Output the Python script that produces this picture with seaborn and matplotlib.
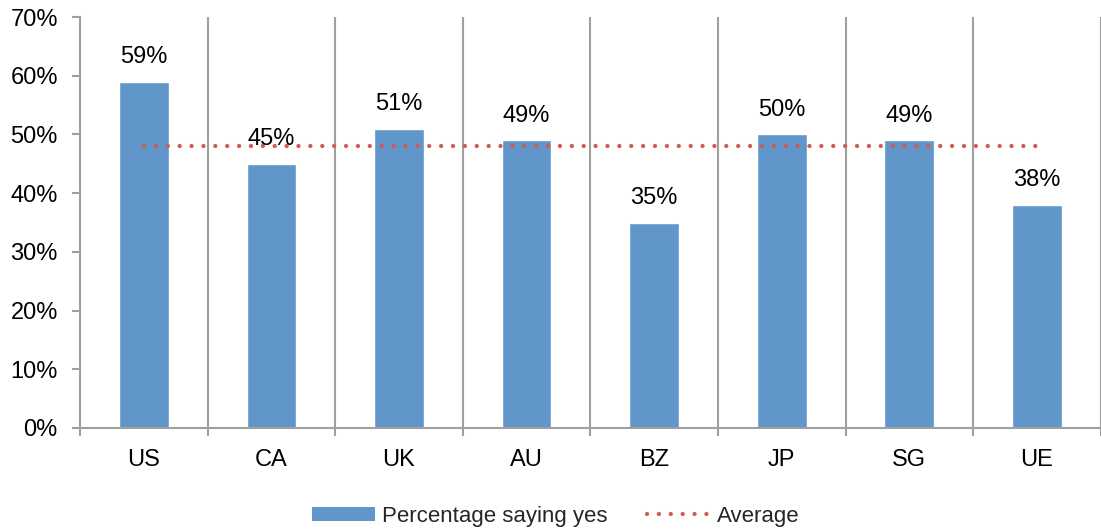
import matplotlib
matplotlib.use("Agg")
import matplotlib.pyplot as plt
from matplotlib.patches import Patch
from matplotlib.lines import Line2D
from matplotlib.ticker import FixedLocator
import seaborn as sns
import pandas as pd

# Survey results by country
countries = ["US", "CA", "UK", "AU", "BZ", "JP", "SG", "UE"]
pct_yes = [59, 45, 51, 49, 35, 50, 49, 38]
average = 48
y_ticks = [0, 10, 20, 30, 40, 50, 60, 70]

bar_color = "#6096C9"
avg_color = "#CD5C57"
axis_gray = "#A0A0A0"
dot_style = (0, (0.01, 2.75))
fs = 17

sns.set_theme(style="white")
plt.rcParams["font.family"] = ["Liberation Sans", "DejaVu Sans"]

df = pd.DataFrame({"country": countries, "pct": pct_yes,
                   "avg": [average] * len(countries)})

fig = plt.figure(figsize=(11.01, 5.32), dpi=100)
ax = fig.add_axes([0.0727, 0.1955, 0.927, 0.7725])

sns.barplot(data=df, x="country", y="pct", color=bar_color, width=0.39,
            saturation=1, ax=ax)
sns.lineplot(data=df, x="country", y="avg", color=avg_color, lw=3.1,
             linestyle=dot_style, dash_capstyle="round", ax=ax, sort=False)

# value labels above the bars
for i, v in enumerate(pct_yes):
    ax.text(i, v + 2.35, f"{v}%", ha="center", va="bottom", fontsize=fs,
            color="black")

ax.set_xlim(-0.5, len(countries) - 0.5)
ax.set_ylim(0, 70)
ax.set_yticks(y_ticks)
ax.set_yticklabels([f"{t}%" for t in y_ticks])
ax.set_xlabel("")
ax.set_ylabel("")

# category separators as vertical grid lines with ticks on the minor grid
bounds = [i - 0.5 for i in range(len(countries) + 1)]
ax.xaxis.set_minor_locator(FixedLocator(bounds))
ax.grid(False)
ax.grid(True, axis="x", which="minor", color=axis_gray, lw=1.5)
ax.tick_params(axis="x", which="major", length=0, pad=15, labelsize=fs,
               colors="black")
ax.tick_params(axis="x", which="minor", length=6, width=1.5, color=axis_gray,
               bottom=True)
ax.tick_params(axis="y", which="major", length=6, width=1.5, color=axis_gray,
               left=True, pad=10, labelsize=fs, labelcolor="black")

for side in ["top", "right"]:
    ax.spines[side].set_visible(False)
for side in ["left", "bottom"]:
    ax.spines[side].set_color(axis_gray)
    ax.spines[side].set_linewidth(1.5)

if ax.get_legend() is not None:
    ax.get_legend().remove()

handles = [
    Patch(facecolor=bar_color, edgecolor="none"),
    Line2D([0], [0], color=avg_color, lw=3.1, linestyle=dot_style,
           dash_capstyle="round"),
]
fig.legend(handles, ["Percentage saying yes", "Average"], loc="center",
           bbox_to_anchor=(0.505, 0.030), ncol=2, frameon=False, fontsize=16,
           handlelength=2.84, handleheight=0.62, handletextpad=0.3,
           columnspacing=1.8)

fig.savefig("out.png", dpi=100)
